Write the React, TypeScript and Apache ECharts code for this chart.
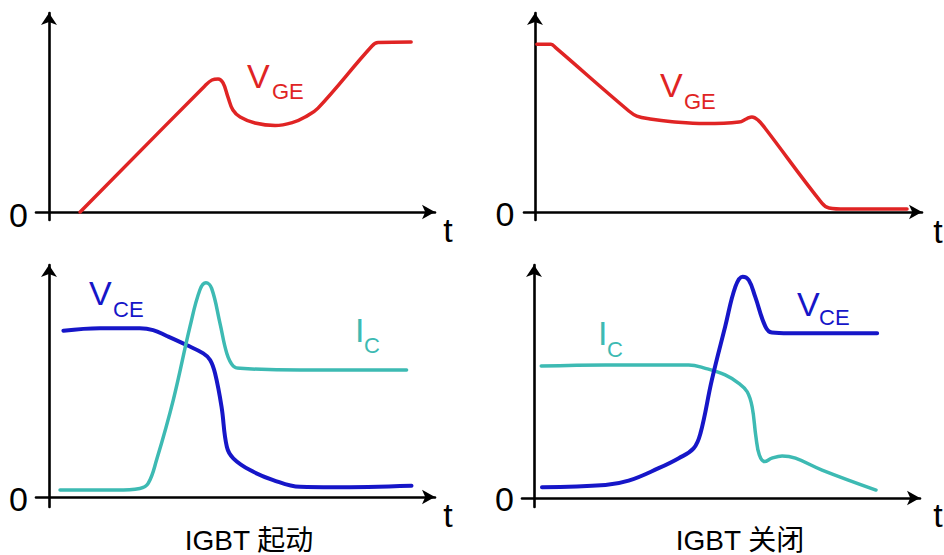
import React, { useEffect, useRef } from "react";
import * as echarts from "echarts";

// ---- data (t: time units, v: relative amplitude, 0..100) ----
const turnOnVGE: number[][] = [
  [8.2, 0], [41, 65.1], [42.9, 68.2], [44.5, 68.7], [45.8, 66.7], [47.1, 59.4],
  [48.4, 52.7], [50.3, 49.1], [54.2, 46], [59.5, 44.7], [64.2, 46.3], [67.4, 49.1],
  [70.8, 53.7], [85, 85.8], [86.6, 87.6], [95.3, 87.9],
];
const turnOffVGE: number[][] = [
  [0.5, 86.7], [4.2, 86.7], [5.5, 84.8], [24.7, 52.2], [26.8, 49.6], [30.3, 48.1],
  [36.1, 46.7], [44.7, 45.7], [53.7, 46.5], [55.8, 48.3], [57.1, 49.1], [58.7, 47.5],
  [60.5, 43.4], [75.5, 4.6], [77.4, 2.1], [81.6, 1.5], [97.9, 1.5],
];
const turnOnVCE: number[][] = [
  [3.8, 73.4], [13.4, 74.5], [23.9, 74.5], [27.4, 73.7], [31, 71.1], [36.2, 67.1],
  [40.6, 63.4], [42.4, 60.5], [43.7, 54.6], [45.4, 39.9], [46.8, 22.2], [48.5, 17.1],
  [52.9, 11.9], [59, 7.5], [66.1, 4.5], [74.7, 4.3], [95.4, 5],
];
const turnOnIC: number[][] = [
  [2.9, 3.1], [17.8, 3.1], [23.9, 3.8], [26.1, 6], [28.3, 16.3], [32.7, 42.8],
  [37.1, 75.2], [39.7, 91.4], [41.3, 94.6], [42.8, 92.1], [45, 76.7], [46.8, 63.4],
  [48.5, 57.8], [50.3, 56.8], [66.1, 56.1], [94.1, 56.1],
];
const turnOffIC: number[][] = [
  [1.9, 58], [18.8, 58.5], [40.7, 58.5], [45.1, 57], [50.3, 54.1], [53.9, 50.4],
  [56.1, 46.7], [57.4, 40.1], [58.4, 26.9], [59.3, 18.9], [60.7, 16], [62.6, 17.5],
  [65.3, 18.5], [68.8, 17.5], [75.8, 12.3], [90, 3.5],
];
const turnOffVCE: number[][] = [
  [2.1, 4.7], [18.8, 5.7], [24.9, 7.6], [32.8, 13.1], [38.1, 17.5], [42, 21.8],
  [43.8, 28.4], [46.8, 51.9], [50.3, 75.3], [53, 92.9], [54.9, 97.3], [56.5, 95.8],
  [58.2, 88.5], [60.9, 75.3], [62.6, 72.7], [67, 72.4], [90.3, 72.4],
];
const titles = ["IGBT 起动", "IGBT 关闭"];
const zeroLabel = "0";
const timeLabel = "t";

const RED = "#e02424";
const BLUE = "#1616c8";
const CYAN = "#3dbab3";
const FONT = '"Liberation Sans", Arial, sans-serif';
const CJK = '"Liberation Sans", "Noto Sans CJK SC", sans-serif';

export default function App() {
  const ref = useRef<HTMLDivElement>(null);
  useEffect(() => {
    if (!ref.current) return;
    const chart = echarts.init(ref.current, null, { renderer: "svg" });
    const grids = [
      { left: 36, top: 13, width: 399, height: 207 },
      { left: 524, top: 13, width: 398, height: 207 },
      { left: 36, top: 265, width: 399, height: 242 },
      { left: 522, top: 265, width: 398, height: 242 },
    ];
    const xMins = [-3.42, -2.89, -3.42, -3.16];
    const xMaxs = [101.58, 101.84, 101.58, 101.58];
    const yMins = [-4.13, -4.13, -4.4, -3.96];
    const yMaxs = [102.84, 102.84, 102.43, 102.42];
    const axisLine = (size: number[]) => ({
      show: true,
      onZero: true,
      symbol: ["none", "arrow"],
      symbolSize: size,
      lineStyle: { color: "#000", width: 2.6 },
    });
    const xAxis = grids.map((_, i) => ({
      type: "value",
      gridIndex: i,
      min: xMins[i],
      max: xMaxs[i],
      axisLine: axisLine([11, 13]),
      axisTick: { show: false },
      axisLabel: { show: false },
      splitLine: { show: false },
    }));
    const yAxis = grids.map((_, i) => ({
      type: "value",
      gridIndex: i,
      min: yMins[i],
      max: yMaxs[i],
      axisLine: axisLine([12, 12]),
      axisTick: { show: false },
      axisLabel: { show: false },
      splitLine: { show: false },
    }));
    const line = (data: number[][], idx: number, color: string, width: number) => ({
      type: "line",
      xAxisIndex: idx,
      yAxisIndex: idx,
      data,
      smooth: 0.4,
      showSymbol: false,
      silent: true,
      lineStyle: { color, width, cap: "round", join: "round" },
    });
    const txt = (text: string, x: number, y: number, size: number, fill: string, align = "left", family = FONT) => ({
      type: "text",
      x,
      y,
      silent: true,
      style: { text, fill, fontSize: size, fontFamily: family, align, verticalAlign: "middle" },
    });
    const graphic = [
      // V_GE labels
      txt("V", 247, 75.5, 34, RED), txt("GE", 272, 91.5, 22, RED),
      txt("V", 660, 85, 34, RED), txt("GE", 684, 101, 22, RED),
      // V_CE / I_C labels
      txt("V", 89, 293, 34, BLUE), txt("CE", 113, 309.5, 22, BLUE),
      txt("I", 355, 329.5, 34, CYAN), txt("C", 364, 345.5, 22, CYAN),
      txt("I", 598, 332.5, 34, CYAN), txt("C", 607, 349.5, 22, CYAN),
      txt("V", 797, 303.5, 34, BLUE), txt("CE", 819, 317.5, 22, BLUE),
      // zeros
      txt(zeroLabel, 18.5, 214.5, 34, "#000", "center"),
      txt(zeroLabel, 505, 214, 34, "#000", "center"),
      txt(zeroLabel, 18.5, 499, 34, "#000", "center"),
      txt(zeroLabel, 504.5, 499, 34, "#000", "center"),
      // t
      txt(timeLabel, 448, 230, 34, "#000", "center"),
      txt(timeLabel, 938, 231, 34, "#000", "center"),
      txt(timeLabel, 448, 515, 34, "#000", "center"),
      txt(timeLabel, 938, 515, 34, "#000", "center"),
      // titles
      txt(titles[0], 249, 540, 28, "#000", "center", CJK),
      txt(titles[1], 740, 540, 28, "#000", "center", CJK),
    ];
    chart.setOption({
      animation: false,
      backgroundColor: "#fff",
      grid: grids,
      xAxis,
      yAxis,
      series: [
        line(turnOnVGE, 0, RED, 3.5),
        line(turnOffVGE, 1, RED, 3.5),
        line(turnOnVCE, 2, BLUE, 4),
        line(turnOnIC, 2, CYAN, 3.5),
        line(turnOffIC, 3, CYAN, 3.5),
        line(turnOffVCE, 3, BLUE, 4),
      ],
      graphic,
    });
    return () => chart.dispose();
  }, []);
  return (
    <div
      ref={ref}
      style={{ position: "absolute", left: 0, top: 0, width: 944, height: 555 }}
    />
  );
}
